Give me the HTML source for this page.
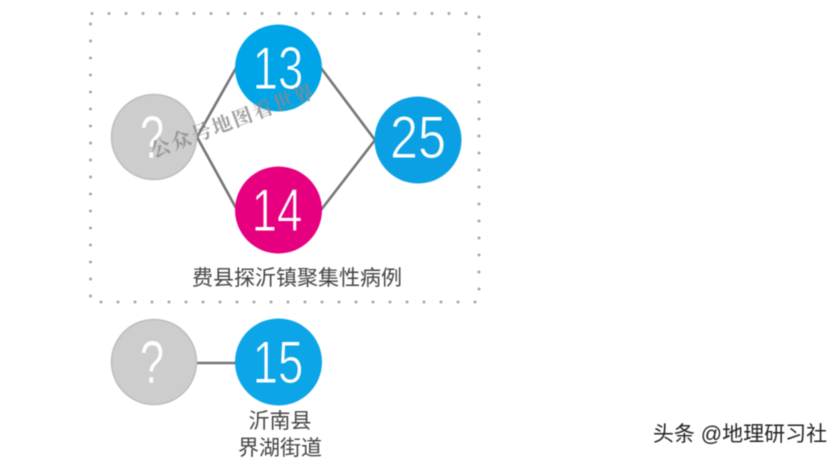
<!DOCTYPE html>
<html><head><meta charset="utf-8">
<style>
html,body{margin:0;padding:0;background:#fff;width:840px;height:458px;overflow:hidden}
svg{display:block;filter:blur(.4px)}
.n{font-family:"Liberation Sans",sans-serif;font-size:60px;fill:#fff;text-anchor:middle;stroke-width:1px}
.t{font-family:"Liberation Sans","Noto Sans CJK SC",sans-serif;font-size:21px;fill:#444;text-anchor:middle}
</style></head><body>
<svg width="840" height="458" viewBox="0 0 840 458" xmlns="http://www.w3.org/2000/svg">
<g stroke="#a6a6a6" stroke-width="3" stroke-linecap="round" fill="none">
<line x1="92" y1="13.5" x2="470" y2="13.5" stroke-dasharray="0 17"/>
<line x1="90.5" y1="24" x2="90.5" y2="297" stroke-dasharray="0 17"/>
<line x1="479" y1="17" x2="479" y2="290" stroke-dasharray="0 17"/>
<line x1="101" y1="302" x2="477" y2="302" stroke-dasharray="0 17"/>
</g>
<g stroke="#757575" stroke-width="2.6" fill="none">
<polyline points="236,68 197,137 236,208"/>
<polyline points="321,68 375,140 321,210"/>
<line x1="196" y1="363" x2="236" y2="363"/>
</g>
<circle cx="154" cy="137" r="42.5" fill="#cdcdcd" stroke="#bdbdbd" stroke-width="1.5"/>
<circle cx="154" cy="362" r="42.5" fill="#cdcdcd" stroke="#bdbdbd" stroke-width="1.5"/>
<circle cx="278.500" cy="68" r="43.500" fill="#00a5e8"/>
<circle cx="278.500" cy="210" r="43.500" fill="#e6007f"/>
<circle cx="418" cy="140" r="43.500" fill="#0ba0e4"/>
<circle cx="278.500" cy="362" r="43.500" fill="#0ba5e8"/>
<text class="n" style="stroke-width:.4px" stroke="#cdcdcd" transform="translate(152 158) scale(.72 1)">?</text>
<text class="n" style="stroke-width:.4px" stroke="#cdcdcd" transform="translate(152 383) scale(.72 1)">?</text>
<text class="n" stroke="#00a5e8" transform="translate(278 89) scale(.76 1)">13</text>
<text class="n" stroke="#e6007f" transform="translate(277 231) scale(.76 1)">14</text>
<text class="n" stroke="#0ba0e4" transform="translate(418 158) scale(.84 1)">25</text>
<text class="n" stroke="#0ba5e8" transform="translate(278 383) scale(.76 1)">15</text>
<text x="297" y="285" class="t">费县探沂镇聚集性病例</text>
<text x="280" y="428" class="t">沂南县</text>
<text x="280" y="455" class="t">界湖街道</text>
<text x="233" y="128" transform="rotate(-20.600 232 121)" style="font-family:'Liberation Serif','Noto Serif CJK SC',serif;font-size:20px;font-weight:700;fill:#8a8a8a;fill-opacity:.8;text-anchor:middle;letter-spacing:1.800px">公众号地图看世界</text>
<text x="740" y="441" style="font-family:'Liberation Sans','Noto Sans CJK SC',sans-serif;font-size:21px;fill:#222;text-anchor:middle">头条 @地理研习社</text>
</svg>
</body></html>
